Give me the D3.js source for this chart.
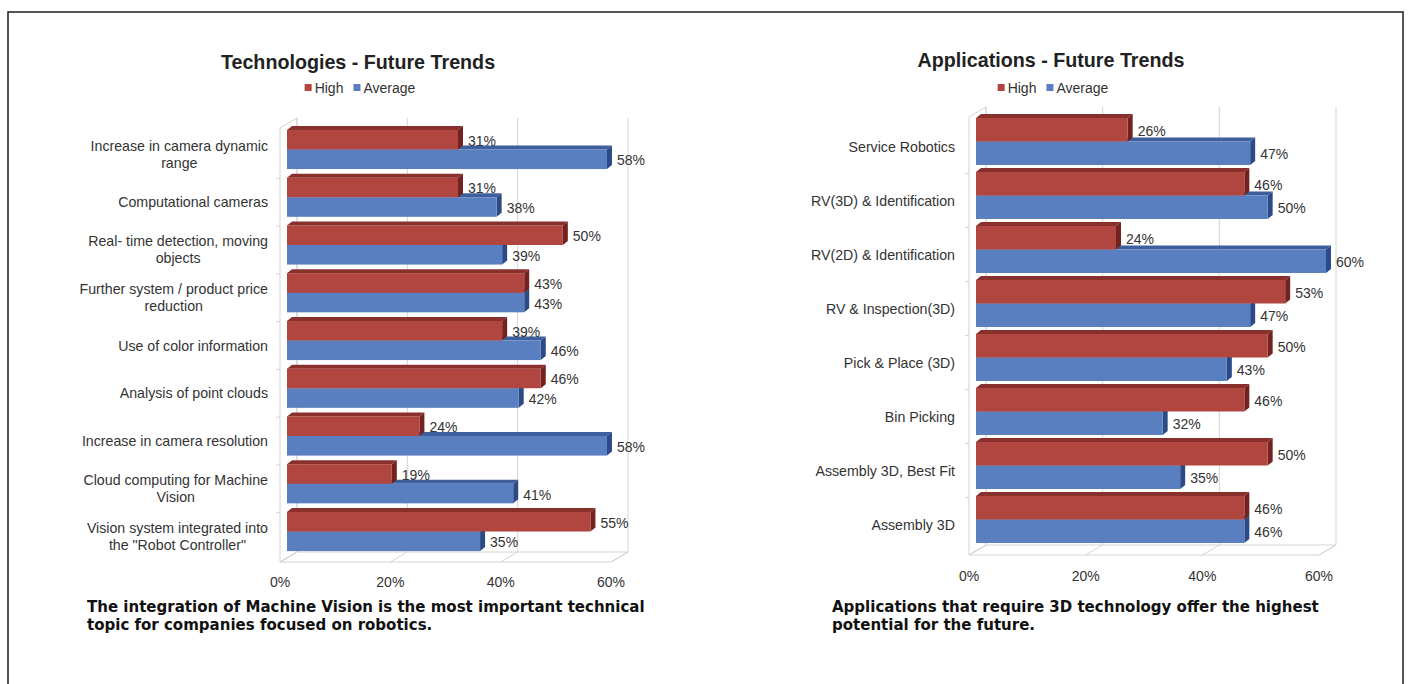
<!DOCTYPE html>
<html>
<head>
<meta charset="utf-8">
<script src="https://cdn.jsdelivr.net/npm/d3@7"></script>
<style>
  body { margin: 0; background: #fff; }
  svg text { font-family: "Liberation Sans", Arial, sans-serif; }
  .cap { font-family: "Liberation Sans Narrow", "DejaVu Sans Condensed", sans-serif; font-weight: bold; }
</style>
</head>
<body>
<svg id="chart" width="1410" height="684"></svg>
<script>
// ---- data ----
var series = ["High", "Average"];

var techCategories = [
  "Increase in camera dynamic\nrange",
  "Computational cameras",
  "Real- time detection, moving\nobjects",
  "Further system / product price\nreduction",
  "Use of color information",
  "Analysis of point clouds",
  "Increase in camera resolution",
  "Cloud computing for Machine\nVision",
  "Vision system integrated into\nthe \"Robot Controller\""
];
var techHigh    = [31, 31, 50, 43, 39, 46, 24, 19, 55];
var techAverage = [58, 38, 39, 43, 46, 42, 58, 41, 35];

var appCategories = [
  "Service Robotics",
  "RV(3D) & Identification",
  "RV(2D) & Identification",
  "RV & Inspection(3D)",
  "Pick & Place (3D)",
  "Bin Picking",
  "Assembly 3D, Best Fit",
  "Assembly 3D"
];
var appHigh    = [26, 46, 24, 53, 50, 46, 50, 46];
var appAverage = [47, 50, 60, 47, 43, 32, 35, 46];

var tickValues = [0, 20, 40, 60];

var techCaption = ["The integration of Machine Vision is the most important technical",
                   "topic for companies focused on robotics."];
var appCaption  = ["Applications that require 3D technology offer the highest",
                   "potential for the future."];

// ---- layout ----
var colors = {
  High:    { front: "#b0463f", top: "#8a302c", side: "#72221f" },
  Average: { front: "#5a7fc0", top: "#3d5f9e", side: "#2c4a86" }
};
var FRONT = [-7, 5], BACK = [10, -5], BAR_D = [5, -4];
var gridColor = "#d4d4d4";

var panels = [
  { title: "Technologies - Future Trends", cats: techCategories, high: techHigh, avg: techAverage, caption: techCaption,
    cx: 358, titleY: 69, legendY: 88, x0: 287, x1: 618, wallTop: 123, floorY: 557,
    bandTop: 125.6, bandBottom: 555.4, pad: 0.18, labelRight: 268, tickY: 587, capX: 87, capY: 612 },
  { title: "Applications - Future Trends", cats: appCategories, high: appHigh, avg: appAverage, caption: appCaption,
    cx: 1051, titleY: 67, legendY: 88, x0: 976, x1: 1326, wallTop: 112, floorY: 550,
    bandTop: 114.5, bandBottom: 546.5, pad: 0.13, labelRight: 955, tickY: 581, capX: 832, capY: 612 }
];

var svg = d3.select("#chart");

// outer frame
svg.append("rect")
  .attr("x", 8).attr("y", 12)
  .attr("width", 1395).attr("height", 700)
  .attr("fill", "none")
  .attr("stroke", "#1e1e1e")
  .attr("stroke-width", 1.5);

function poly(pts) {
  return pts.map(function (p) { return p.join(","); }).join(" ");
}

panels.forEach(function (p) {
  var g = svg.append("g");

  var x = d3.scaleLinear().domain([0, 60]).range([p.x0, p.x1]);
  var y = d3.scaleBand()
    .domain(d3.range(p.cats.length))
    .range([p.bandTop, p.bandBottom])
    .paddingInner(p.pad)
    .paddingOuter(p.pad / 2);
  var ys = d3.scaleBand().domain(series).range([0, y.bandwidth()]);

  // back wall gridlines
  g.selectAll(".grid")
    .data(tickValues)
    .enter().append("line")
    .attr("x1", function (d) { return x(d) + BACK[0]; })
    .attr("x2", function (d) { return x(d) + BACK[0]; })
    .attr("y1", p.wallTop + BACK[1])
    .attr("y2", p.floorY + BACK[1])
    .attr("stroke", gridColor);

  // floor
  g.append("polygon")
    .attr("points", poly([
      [x(0) + FRONT[0], p.floorY + FRONT[1]],
      [x(60) + FRONT[0], p.floorY + FRONT[1]],
      [x(60) + BACK[0], p.floorY + BACK[1]],
      [x(0) + BACK[0], p.floorY + BACK[1]]
    ]))
    .attr("fill", "#fff")
    .attr("stroke", gridColor);

  g.selectAll(".fgrid")
    .data(tickValues)
    .enter().append("line")
    .attr("x1", function (d) { return x(d) + FRONT[0]; })
    .attr("x2", function (d) { return x(d) + BACK[0]; })
    .attr("y1", p.floorY + FRONT[1])
    .attr("y2", p.floorY + BACK[1])
    .attr("stroke", gridColor);

  // left wall
  g.append("polygon")
    .attr("points", poly([
      [x(0) + FRONT[0], p.floorY + FRONT[1]],
      [x(0) + FRONT[0], p.wallTop + FRONT[1]],
      [x(0) + BACK[0], p.wallTop + BACK[1]],
      [x(0) + BACK[0], p.floorY + BACK[1]]
    ]))
    .attr("fill", "none")
    .attr("stroke", gridColor);

  // category tick marks
  var bounds = d3.range(p.cats.length + 1).map(function (i) {
    return i < p.cats.length ? y(i) - y.step() * y.paddingInner() / 2 : p.bandBottom;
  });
  g.selectAll(".ctick")
    .data(bounds.slice(1, -1))
    .enter().append("line")
    .attr("x1", x(0) + FRONT[0] - 4)
    .attr("x2", x(0) + FRONT[0])
    .attr("y1", function (d) { return d + FRONT[1]; })
    .attr("y2", function (d) { return d + FRONT[1]; })
    .attr("stroke", gridColor);

  // bars (Average first so High overlaps its top face)
  var rows = p.cats.map(function (c, i) {
    return { i: i, High: p.high[i], Average: p.avg[i] };
  });
  ["Average", "High"].forEach(function (s) {
    var bars = g.selectAll(".bar-" + s)
      .data(rows)
      .enter().append("g")
      .attr("class", "bar-" + s);

    bars.append("polygon") // top face
      .attr("points", function (d) {
        var t = y(d.i) + ys(s), r = x(d[s]);
        return poly([[x(0), t], [r, t], [r + BAR_D[0], t + BAR_D[1]], [x(0) + BAR_D[0], t + BAR_D[1]]]);
      })
      .attr("fill", colors[s].top);

    bars.append("polygon") // side face
      .attr("points", function (d) {
        var t = y(d.i) + ys(s), r = x(d[s]), h = ys.bandwidth();
        return poly([[r, t], [r + BAR_D[0], t + BAR_D[1]], [r + BAR_D[0], t + h + BAR_D[1]], [r, t + h]]);
      })
      .attr("fill", colors[s].side);

    bars.append("rect") // front face
      .attr("x", x(0))
      .attr("y", function (d) { return y(d.i) + ys(s); })
      .attr("width", function (d) { return x(d[s]) - x(0); })
      .attr("height", ys.bandwidth())
      .attr("fill", colors[s].front);
  });

  // value labels
  series.forEach(function (s) {
    g.selectAll(".val-" + s)
      .data(rows)
      .enter().append("text")
      .attr("x", function (d) { return x(d[s]) + 10; })
      .attr("y", function (d) { return y(d.i) + ys(s) + ys.bandwidth() / 2 + 1; })
      .attr("dominant-baseline", "central")
      .attr("font-size", 14)
      .attr("fill", "#333")
      .text(function (d) { return d[s] + "%"; });
  });

  // category labels: lines centred, block right-aligned
  p.cats.forEach(function (c, i) {
    var lines = c.split("\n");
    var tg = g.append("g");
    var texts = lines.map(function (l) {
      return tg.append("text").attr("font-size", 14.2).attr("fill", "#333")
        .attr("text-anchor", "middle").text(l);
    });
    var maxW = d3.max(texts, function (t) { return t.node().getComputedTextLength(); });
    var cx = p.labelRight - maxW / 2;
    var cy = y(i) + y.bandwidth() / 2 + FRONT[1];
    texts.forEach(function (t, j) {
      t.attr("x", cx)
        .attr("y", cy + (j - (lines.length - 1) / 2) * 17)
        .attr("dominant-baseline", "central");
    });
  });

  // x axis tick labels on the floor front edge
  g.selectAll(".tick")
    .data(tickValues)
    .enter().append("text")
    .attr("x", function (d) { return x(d) + FRONT[0]; })
    .attr("y", p.tickY)
    .attr("text-anchor", "middle")
    .attr("font-size", 14)
    .attr("fill", "#333")
    .text(function (d) { return d + "%"; });

  // title
  g.append("text")
    .attr("x", p.cx).attr("y", p.titleY)
    .attr("text-anchor", "middle")
    .attr("font-size", 19.7)
    .attr("font-weight", "bold")
    .attr("fill", "#222")
    .text(p.title);

  // legend
  var lg = g.append("g");
  var lx = 0;
  series.forEach(function (s) {
    lg.append("rect").attr("x", lx).attr("y", -4).attr("width", 7).attr("height", 7)
      .attr("fill", colors[s].front);
    var t = lg.append("text").attr("x", lx + 10).attr("y", 0)
      .attr("dominant-baseline", "central")
      .attr("font-size", 14).attr("fill", "#333").text(s);
    lx += 10 + t.node().getComputedTextLength() + 10;
  });
  lx -= 10;
  lg.attr("transform", "translate(" + (p.cx + 2 - lx / 2) + "," + p.legendY + ")");

  // caption
  g.selectAll(".cap")
    .data(p.caption)
    .enter().append("text")
    .attr("class", "cap")
    .attr("x", p.capX)
    .attr("y", function (d, i) { return p.capY + i * 18; })
    .attr("font-size", 16.7)
    .attr("fill", "#111")
    .text(function (d) { return d; });
});
</script>
</body>
</html>
